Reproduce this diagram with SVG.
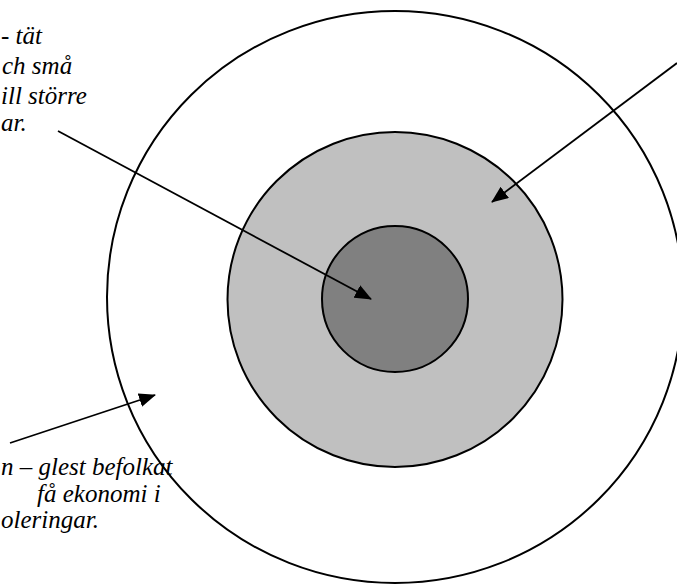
<svg xmlns="http://www.w3.org/2000/svg" width="677" height="585" viewBox="0 0 677 585">
<style>
.ring{stroke:#000;stroke-width:2}
.lbl{font-family:'Liberation Serif','DejaVu Serif',serif;font-style:italic;font-size:25px;fill:#000}
.conn{stroke:#000;stroke-width:1.8;fill:none;marker-end:url(#ah)}
</style>
<defs>
<marker id="ah" viewBox="0 0 17 14" markerWidth="17" markerHeight="14" refX="16" refY="7" orient="auto" markerUnits="userSpaceOnUse">
<path d="M0,0 L17,7 L0,14 z" fill="#000"/>
</marker>
</defs>
<rect width="677" height="585" fill="#fff"/>
<g id="periphery">
<ellipse class="ring" cx="395" cy="297" rx="288" ry="286" fill="#fff"/>
</g>
<g id="semi-periphery">
<circle class="ring" cx="395" cy="299.5" r="167.5" fill="#c0c0c0"/>
</g>
<g id="core">
<circle class="ring" cx="395" cy="299" r="73" fill="#808080"/>
</g>
<g id="core-label">
<text class="lbl" x="1" y="44">- tät</text>
<text class="lbl" x="2" y="74">ch små</text>
<text class="lbl" x="1" y="104">ill större</text>
<text class="lbl" x="1" y="131">ar.</text>
</g>
<g id="periphery-label">
<text class="lbl" x="1" y="475">n – glest befolkat</text>
<text class="lbl" x="37" y="502">få ekonomi i</text>
<text class="lbl" x="1" y="528">oleringar.</text>
</g>
<g id="connectors">
<path class="conn" d="M58,131 L371,299"/>
<path class="conn" d="M677,63 L492,202"/>
<path class="conn" d="M10,443 L155,395"/>
</g>
</svg>
